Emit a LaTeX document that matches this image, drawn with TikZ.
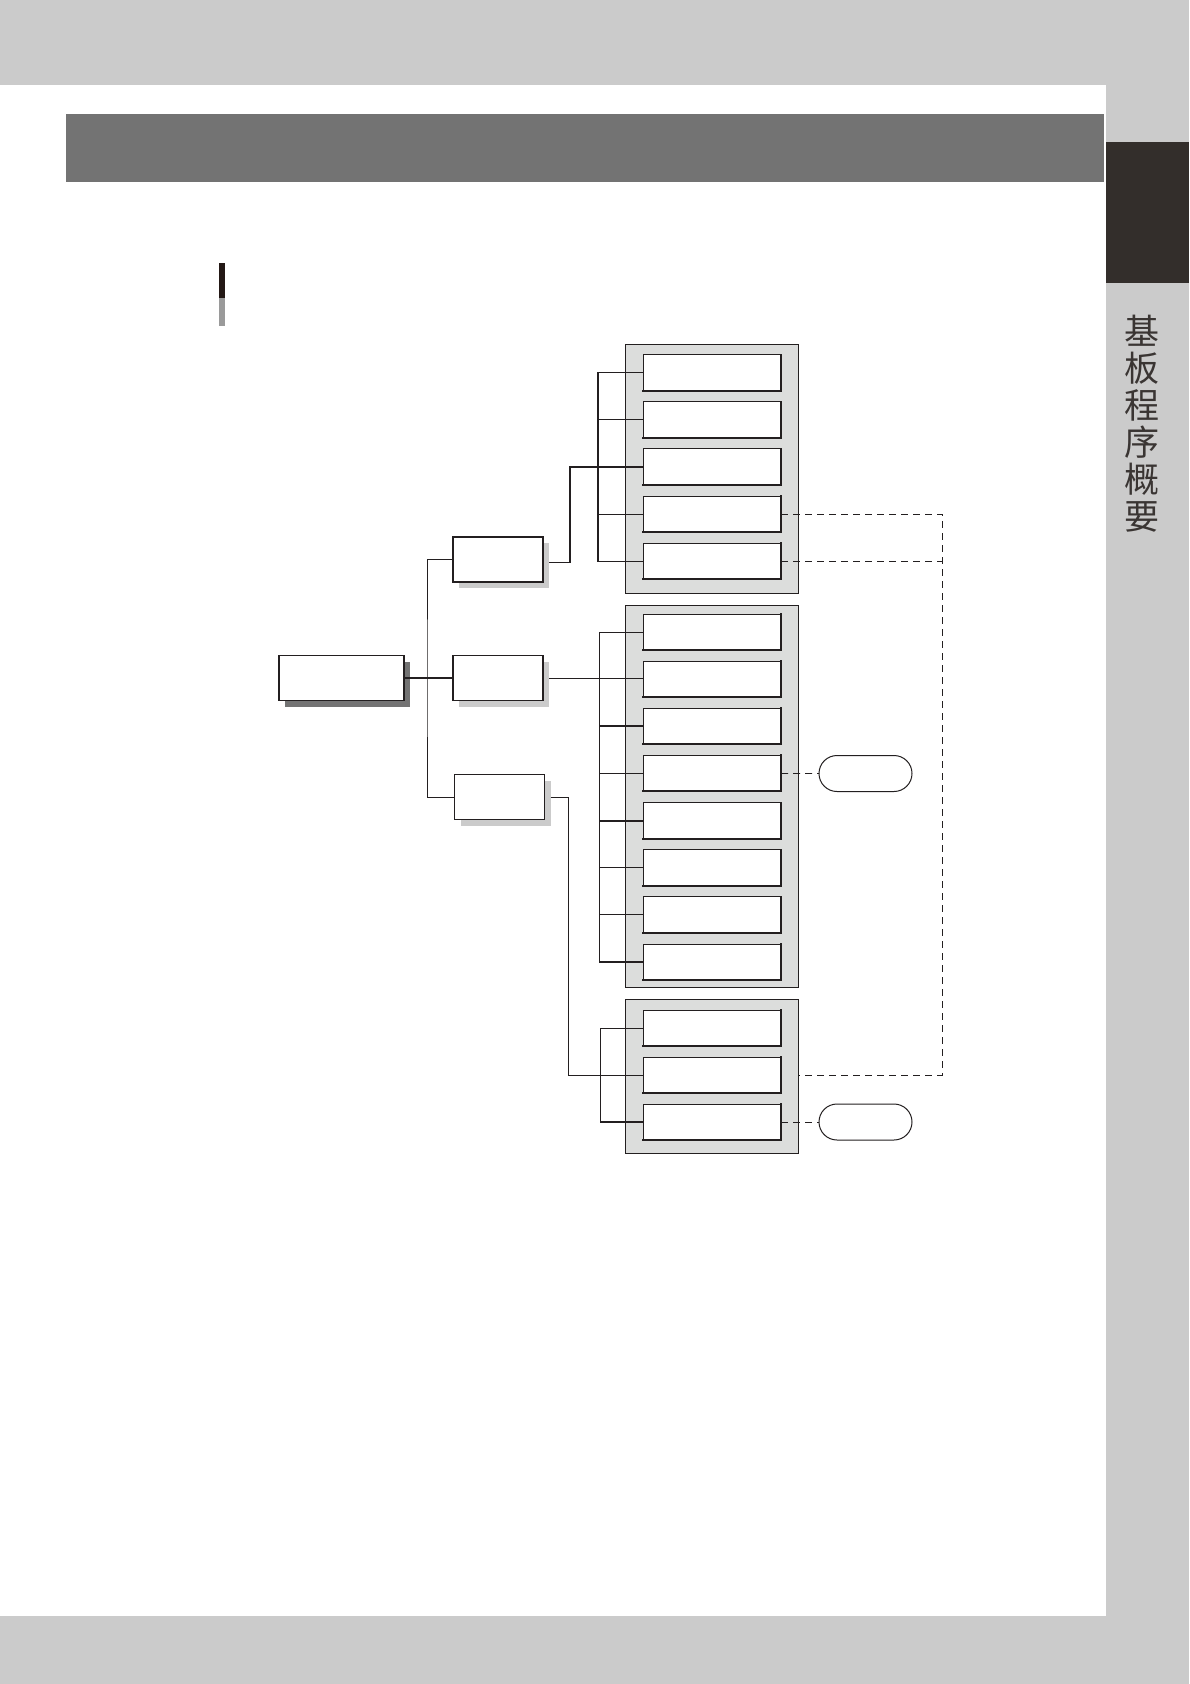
\documentclass[tikz,border=0pt]{standalone}
\usepackage{fontspec}
\newfontfamily\cjk{Noto Sans CJK SC}
\usetikzlibrary{shadows}
\definecolor{pagegray}{HTML}{CBCBCB}
\definecolor{hdr}{HTML}{737373}
\definecolor{tabc}{HTML}{332E2B}
\definecolor{panelc}{HTML}{DCDDDC}
\definecolor{ink}{HTML}{231F20}
\definecolor{markd}{HTML}{231815}
\definecolor{markg}{HTML}{9A9A9A}
\definecolor{sidetext}{HTML}{3A3533}
\tikzset{
  rootbox/.style={draw=ink, line width=1.8pt, fill=white, minimum width=125pt, minimum height=45pt, inner sep=0pt, outer sep=0pt,
    drop shadow={shadow xshift=6pt, shadow yshift=-6pt, fill=hdr, opacity=1}},
  midbox/.style={draw=ink, line width=1.6pt, fill=white, minimum width=90pt, minimum height=45pt, inner sep=0pt, outer sep=0pt,
    drop shadow={shadow xshift=6pt, shadow yshift=-6pt, fill=pagegray, opacity=1}},
  ibox/.style={draw=ink, line width=1pt, fill=white, minimum width=138pt, minimum height=36pt, inner sep=0pt, outer sep=0pt},
  panel/.style={draw=ink, line width=0.9pt, fill=panelc, minimum width=173pt, inner sep=0pt, outer sep=0pt},
  pill/.style={draw=ink, line width=1pt, fill=white, rounded corners=18pt, minimum width=93pt, minimum height=36pt, inner sep=0pt, outer sep=0pt},
  conn/.style={draw=ink, line width=1pt},
  connthick/.style={draw=ink, line width=1.9pt},
  dsh/.style={draw=ink, line width=0.9pt, dash pattern=on 7pt off 5pt},
}
\begin{document}
\begin{tikzpicture}[x=1pt,y=-1pt]
\useasboundingbox (0,0) rectangle (1189,1684);
% page background
\fill[pagegray] (0,0) rectangle (1189,1684);
\fill[white] (0,85) rectangle (1106,1616);
\fill[hdr] (66,114) rectangle (1104,182);
\fill[tabc] (1106,142) rectangle (1189,283);
\fill[markd] (219,263) rectangle (225,298);
\fill[markg] (219,298) rectangle (225,326);
\node[text=sidetext, font=\cjk\fontsize{35pt}{37pt}\selectfont, align=center, inner sep=0pt] (side) at (1142,424) {基\\板\\程\\序\\概\\要};

% panels
\node[panel, minimum height=249pt] (P1) at (711.5,468.5) {};
\node[panel, minimum height=382pt] (P2) at (711.5,796) {};
\node[panel, minimum height=154pt] (P3) at (711.5,1076) {};

% inner boxes
\foreach \i in {1,...,5} {\node[ibox] (pa\i) at (712,{372.5+47.2*(\i-1)}) {};}
\foreach \i in {1,...,8} {\node[ibox] (pb\i) at (712,{632+47.15*(\i-1)}) {};}
\foreach \i in {1,...,3} {\node[ibox] (pc\i) at (712,{1028+47*(\i-1)}) {};}
\foreach \n in {pa1,pa2,pa3,pa4,pa5,pb1,pb2,pb3,pb4,pb5,pb6,pb7,pb8,pc1,pc2,pc3} {
  \draw[ink, line width=2pt, line cap=rect] (\n.north east) -- (\n.south east) -- (\n.south west);
}

% root and level 2
\node[rootbox] (root) at (341.5,678) {};
\node[midbox] (A) at (498,559.5) {};
\node[midbox] (B) at (498,678) {};
\node[midbox] (C) at (499.5,797) {};

% root connectors
\coordinate (busL) at (427,678);
\draw[connthick] (root.east) -- (B.west);
\draw[conn] (A.west) -| (busL) |- (C.west);

% A -> panel 1
\coordinate (ja) at (570,0);
\draw[connthick] ([xshift=6pt,yshift=-3pt]A.east) -| (ja |- pa3.west) -- (pa3.west);
\coordinate (b1) at (598,0);
\draw[conn, line width=1.3pt] (pa1.west) -- (b1 |- pa1.west) -- (b1 |- pa5.west) -- (pa5.west);
\draw[conn] (b1 |- pa2.west) -- (pa2.west);
\draw[conn] (b1 |- pa4.west) -- (pa4.west);

% B -> panel 2
\draw[conn] ([xshift=6pt]B.east) -- (B.east -| pb2.west);
\coordinate (b2) at (599,0);
\draw[conn] (pb1.west) -- (b2 |- pb1.west) -- (b2 |- pb8.west);
\draw[connthick] (b2 |- pb8.west) -- (pb8.west);
\draw[connthick] (b2 |- pb3.west) -- (pb3.west);
\draw[connthick] (b2 |- pb4.west) -- (pb4.west);
\draw[connthick] (b2 |- pb5.west) -- (pb5.west);
\draw[conn] (b2 |- pb6.west) -- (pb6.west);
\draw[conn] (b2 |- pb7.west) -- (pb7.west);

% C -> panel 3
\coordinate (jc) at (568,0);
\draw[conn] ([xshift=6pt]C.east) -| (jc |- pc2.west) -- (pc2.west);
\coordinate (b3) at (600,0);
\draw[conn] (pc1.west) -- (b3 |- pc1.west) -- (b3 |- pc3.west);
\draw[connthick] (b3 |- pc3.west) -- (pc3.west);

% pills
\node[pill] (pill1) at (865.5,773.5) {};
\node[pill] (pill2) at (865.5,1122) {};

% dashed links
\coordinate (dx) at (942,0);
\draw[dsh] (pa4.east) -- (dx |- pa4.east) -- (dx |- pc2.west) -- (pc2.west -| P3.east);
\draw[dsh] (pa5.east) -- (dx |- pa5.east);
\draw[dsh] (pb4.east) -- (pill1.west);
\draw[dsh] (pc3.east) -- (pill2.west);
\end{tikzpicture}
\end{document}
